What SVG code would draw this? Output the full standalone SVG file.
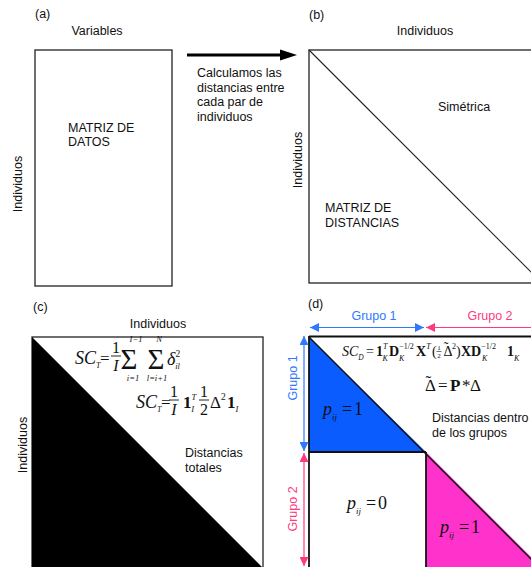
<svg xmlns="http://www.w3.org/2000/svg" width="531" height="567" viewBox="0 0 531 567">
<style>
.t{font-family:"Liberation Sans",Arial,sans-serif;font-size:12.5px;fill:#111}
.m{font-family:"Liberation Serif","Times New Roman",serif;fill:#111}
.i{font-style:italic}
.b{font-weight:bold}
.n{font-style:normal;font-weight:normal}
.w{font-style:italic;font-weight:normal}
.box{fill:none;stroke:#222;stroke-width:1.3}
</style>
<defs>
<marker id="hb" viewBox="0 0 10 10" refX="10" refY="5" markerWidth="9" markerHeight="9" markerUnits="userSpaceOnUse" orient="auto-start-reverse"><path d="M0,0 L10,5 L0,10 z" fill="#2f78ff"/></marker>
<marker id="hp" viewBox="0 0 10 10" refX="10" refY="5" markerWidth="9" markerHeight="9" markerUnits="userSpaceOnUse" orient="auto-start-reverse"><path d="M0,0 L10,5 L0,10 z" fill="#ff3a7c"/></marker>
</defs>

<g id="panel-a">
<text class="t" x="35" y="18">(a)</text>
<text class="t" x="97" y="35" text-anchor="middle">Variables</text>
<rect class="box" x="35" y="50" width="137" height="236"/>
<text class="t" x="68" y="132">MATRIZ DE</text>
<text class="t" x="68" y="146">DATOS</text>
<text class="t" transform="translate(22,184) rotate(-90)" text-anchor="middle">Individuos</text>
</g>

<g id="connectors">
<line x1="187" y1="55" x2="282" y2="55" stroke="#000" stroke-width="3"/>
<path d="M280,49.5 L297,55 L280,60.5 z" fill="#000"/>
</g>
<g id="arrow-label">
<text class="t" x="197" y="77">Calculamos las</text>
<text class="t" x="197" y="91.5">distancias entre</text>
<text class="t" x="197" y="106">cada par de</text>
<text class="t" x="197" y="120.5">individuos</text>
</g>

<g id="panel-b">
<text class="t" x="309" y="19">(b)</text>
<text class="t" x="425" y="35" text-anchor="middle">Individuos</text>
<rect class="box" x="309" y="50" width="233" height="233"/>
<line x1="309" y1="50" x2="542" y2="283" stroke="#222" stroke-width="1.1"/>
<text class="t" x="438" y="111">Simétrica</text>
<text class="t" x="325" y="212">MATRIZ DE</text>
<text class="t" x="325" y="227">DISTANCIAS</text>
<text class="t" transform="translate(302,160) rotate(-90)" text-anchor="middle">Individuos</text>
</g>

<g id="panel-c">
<text class="t" x="33" y="311">(c)</text>
<text class="t" x="158" y="328" text-anchor="middle">Individuos</text>
<rect class="box" x="32" y="337" width="231" height="240"/>
<path d="M32,337 L263,568 L32,568 z" fill="#000"/>
<text class="t" transform="translate(27,445) rotate(-90)" text-anchor="middle">Individuos</text>
<text class="t" x="185" y="457">Distancias</text>
<text class="t" x="185" y="471.5">totales</text>
<g class="m">
<text class="i" x="75" y="364" font-size="18">SC<tspan font-size="8" dy="4">T</tspan></text>
<text x="100" y="364" font-size="17">=</text>
<text x="116" y="353" font-size="16" text-anchor="middle">1</text>
<line x1="111" y1="356" x2="121" y2="356" stroke="#111" stroke-width="0.9"/>
<text class="i" x="116" y="371" font-size="16" text-anchor="middle">I</text>
<text x="129" y="369" font-size="29" text-anchor="middle">Σ</text>
<text class="i" x="136" y="342" font-size="8.5" text-anchor="middle">I−1</text>
<text class="i" x="133" y="381" font-size="8.5" text-anchor="middle">i=1</text>
<text x="156" y="369" font-size="29" text-anchor="middle">Σ</text>
<text class="i" x="159" y="342" font-size="8.5" text-anchor="middle">N</text>
<text class="i" x="157" y="381" font-size="8.5" text-anchor="middle">l=i+1</text>
<text class="i" x="167" y="365" font-size="18">δ<tspan class="n" font-size="9.5" dy="-8">2</tspan><tspan font-size="8.5" dx="-5" dy="12">il</tspan></text>
</g>
<g class="m">
<text class="i" x="136" y="408" font-size="18">SC<tspan font-size="8" dy="4">T</tspan></text>
<text x="161" y="408" font-size="17">=</text>
<text x="174" y="397" font-size="16" text-anchor="middle">1</text>
<line x1="169" y1="400" x2="179" y2="400" stroke="#111" stroke-width="0.9"/>
<text class="i" x="174" y="415" font-size="16" text-anchor="middle">I</text>
<text class="b" x="183" y="408" font-size="17">1<tspan class="w" font-size="8.5" dy="-8">T</tspan><tspan class="w" font-size="8.5" dx="-5" dy="12">I</tspan></text>
<text x="204" y="397" font-size="16" text-anchor="middle">1</text>
<line x1="199" y1="400" x2="209" y2="400" stroke="#111" stroke-width="0.9"/>
<text x="204" y="415" font-size="16" text-anchor="middle">2</text>
<text x="210" y="408" font-size="17">Δ<tspan font-size="9.5" dy="-8">2</tspan></text>
<text class="b" x="227" y="408" font-size="17">1<tspan class="w" font-size="8.5" dy="4">I</tspan></text>
</g>
</g>

<g id="panel-d">
<text class="t" x="308" y="308">(d)</text>
<path d="M309,337 L309,452 L426,452 z" fill="#0a5cff"/>
<path d="M426,452 L541,567 L426,567 z" fill="#ff33cc"/>
<line x1="309" y1="336.5" x2="531" y2="336.5" stroke="#111" stroke-width="1.8"/>
<line x1="309" y1="336" x2="309" y2="567" stroke="#111" stroke-width="1.8"/>
<line x1="309" y1="452" x2="426" y2="452" stroke="#111" stroke-width="1.8"/>
<line x1="426" y1="452" x2="426" y2="567" stroke="#111" stroke-width="1.8"/>
<line x1="309" y1="337" x2="541" y2="569" stroke="#111" stroke-width="1.4"/>
<g class="m">
<text class="i" x="342" y="356" font-size="14">SC<tspan font-size="7.5" dy="4">D</tspan></text>
<text x="366" y="356" font-size="14">=</text>
<text class="b" x="376" y="356" font-size="14">1<tspan class="w" font-size="8" dy="-7">T</tspan><tspan class="w" font-size="8" dx="-5" dy="12">K</tspan></text>
<text class="b" x="389" y="356" font-size="14">D<tspan class="n" font-size="8" dy="-7">−1/2</tspan></text>
<text class="i" x="399" y="361" font-size="8">K</text>
<text class="b" x="416" y="356" font-size="14">X<tspan class="w" font-size="8" dy="-7">T</tspan></text>
<text x="432" y="356" font-size="14">(</text>
<text x="439" y="350" font-size="7" text-anchor="middle">1</text>
<line x1="436.5" y1="351.5" x2="441.5" y2="351.5" stroke="#111" stroke-width="0.6"/>
<text x="439" y="358" font-size="7" text-anchor="middle">2</text>
<text x="443.5" y="356" font-size="14">Δ<tspan dx="-8.7" dy="-4">˜</tspan></text>
<text x="452" y="349" font-size="8">2</text>
<text x="456" y="356" font-size="14">)</text>
<text class="b" x="461" y="356" font-size="14">XD<tspan class="n" font-size="8" dy="-7">−1/2</tspan></text>
<text class="i" x="482" y="361" font-size="8">K</text>
<text class="b" x="507" y="356" font-size="14">1<tspan class="w" font-size="8" dy="5">K</tspan></text>
<text x="425" y="391" font-size="17">Δ<tspan dx="-10.5" dy="-4.5">˜</tspan></text>
<text x="438" y="391" font-size="17">=</text>
<text class="b" x="450" y="391" font-size="17">P</text>
<text x="462" y="391" font-size="17">*</text>
<text x="470" y="391" font-size="17">Δ</text>
<text class="i" x="323" y="415" font-size="18">p<tspan font-size="9" dy="5">ij</tspan></text>
<text x="342" y="415" font-size="18">=</text>
<text x="354" y="415" font-size="18">1</text>
<text class="i" x="347" y="509" font-size="18">p<tspan font-size="9" dy="5">ij</tspan></text>
<text x="366" y="509" font-size="18">=</text>
<text x="378" y="509" font-size="18">0</text>
<text class="i" x="440" y="533" font-size="18">p<tspan font-size="9" dy="5">ij</tspan></text>
<text x="459" y="533" font-size="18">=</text>
<text x="471" y="533" font-size="18">1</text>
</g>
<text class="t" x="432" y="422">Distancias dentro</text>
<text class="t" x="432" y="436.5">de los grupos</text>
<text class="t" x="374" y="320" text-anchor="middle" style="fill:#2f78ff">Grupo 1</text>
<text class="t" x="490" y="320" text-anchor="middle" style="fill:#ff3a7c">Grupo 2</text>
<text class="t" transform="translate(297,378) rotate(-90)" text-anchor="middle" style="fill:#2f78ff">Grupo 1</text>
<text class="t" transform="translate(297,509) rotate(-90)" text-anchor="middle" style="fill:#ff3a7c">Grupo 2</text>
</g>

<g id="group-arrows">
<line x1="310" y1="327.5" x2="424" y2="327.5" stroke="#2f78ff" stroke-width="1.2" marker-start="url(#hb)" marker-end="url(#hb)"/>
<line x1="426" y1="327.5" x2="540" y2="327.5" stroke="#ff3a7c" stroke-width="1.2" marker-start="url(#hp)"/>
<line x1="304" y1="336" x2="304" y2="451" stroke="#2f78ff" stroke-width="1.2" marker-start="url(#hb)" marker-end="url(#hb)"/>
<line x1="304" y1="453" x2="304" y2="566" stroke="#ff3a7c" stroke-width="1.2" marker-start="url(#hp)" marker-end="url(#hp)"/>
</g>
</svg>
